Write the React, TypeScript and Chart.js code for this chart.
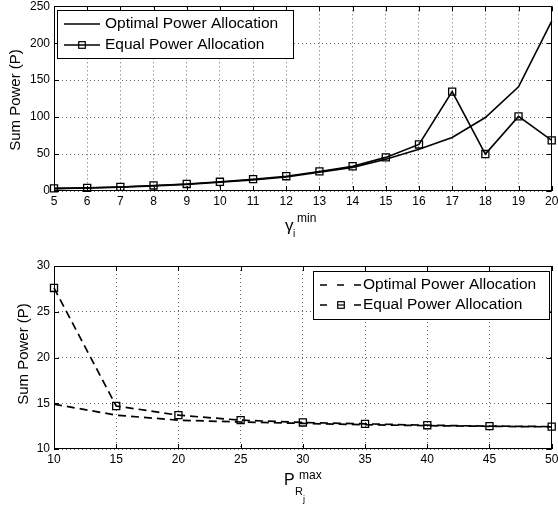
import React, { useEffect, useRef } from "react";
import { Chart, registerables } from "chart.js";

Chart.register(...registerables);

const gammaValues = [5, 6, 7, 8, 9, 10, 11, 12, 13, 14, 15, 16, 17, 18, 19, 20];
const optimalTop = [3.2, 4, 5.2, 7, 9, 11.8, 15, 19, 25.5, 32, 43, 56.5, 72.5, 99.5, 141, 230];
const equalTop = [3.5, 4.2, 5.5, 7.5, 9.5, 12.5, 16, 20, 26.5, 33.5, 45.5, 63, 134.5, 50, 101, 68.5];

const pRValues = [10, 15, 20, 25, 30, 35, 40, 45, 50];
const optimalBottom = [14.9, 13.7, 13.15, 12.95, 12.8, 12.65, 12.55, 12.48, 12.42];
const equalBottom = [27.6, 14.7, 13.7, 13.15, 12.9, 12.75, 12.6, 12.5, 12.45];

const seriesLabels = ["Optimal Power Allocation", "Equal Power Allocation"];
const yTitle = "Sum Power (P)";

const FONT = "'Liberation Sans', Arial, Helvetica, sans-serif";

type LegendCfg = {
  box: [number, number, number, number];
  rows: number[];
  lineX: [number, number];
  markerX: number;
  textX: number;
  dash: number[];
};

type TitleCfg = {
  yTitleX: number;
  yTitleY: number;
  drawX: (ctx: CanvasRenderingContext2D) => void;
  legend: LegendCfg;
};

function makePlugin(cfg: TitleCfg) {
  return {
    id: "matlabFrame",
    afterDraw(chart: any) {
      const ctx: CanvasRenderingContext2D = chart.ctx;
      const a = chart.chartArea;
      ctx.save();
      ctx.strokeStyle = "#000";
      ctx.lineWidth = 1;
      ctx.setLineDash([]);
      ctx.strokeRect(Math.round(a.left) + 0.5, Math.round(a.top) + 0.5, Math.round(a.right - a.left) - 1, Math.round(a.bottom - a.top) - 1);
      const tl = 5;
      const xs = chart.scales.x;
      xs.ticks.forEach((t: any) => {
        const px = Math.round(xs.getPixelForValue(t.value)) + 0.5;
        ctx.beginPath();
        ctx.moveTo(px, a.bottom);
        ctx.lineTo(px, a.bottom - tl);
        ctx.moveTo(px, a.top);
        ctx.lineTo(px, a.top + tl);
        ctx.stroke();
      });
      const ys = chart.scales.y;
      ys.ticks.forEach((t: any) => {
        const py = Math.round(ys.getPixelForValue(t.value)) + 0.5;
        ctx.beginPath();
        ctx.moveTo(a.left, py);
        ctx.lineTo(a.left + tl, py);
        ctx.moveTo(a.right, py);
        ctx.lineTo(a.right - tl, py);
        ctx.stroke();
      });
      ctx.fillStyle = "#000";
      ctx.font = `15px ${FONT}`;
      ctx.textAlign = "center";
      ctx.textBaseline = "middle";
      ctx.save();
      ctx.translate(cfg.yTitleX, cfg.yTitleY);
      ctx.rotate(-Math.PI / 2);
      ctx.fillText(yTitle, 0, 0);
      ctx.restore();
      ctx.textAlign = "left";
      ctx.textBaseline = "alphabetic";
      cfg.drawX(ctx);
      const L = cfg.legend;
      const [bx, by, bw, bh] = L.box;
      ctx.fillStyle = "#fff";
      ctx.fillRect(bx, by, bw, bh);
      ctx.strokeStyle = "#000";
      ctx.lineWidth = 1;
      ctx.strokeRect(bx + 0.5, by + 0.5, bw, bh);
      chart.data.datasets.forEach((ds: any, i: number) => {
        const y = L.rows[i];
        ctx.strokeStyle = "#000";
        ctx.lineWidth = 1.5;
        ctx.setLineDash(L.dash);
        ctx.beginPath();
        ctx.moveTo(L.lineX[0], y);
        ctx.lineTo(L.lineX[1], y);
        ctx.stroke();
        ctx.setLineDash([]);
        if (ds.pointRadius > 0) {
          const s = 3.3;
          if (L.dash.length) {
            ctx.fillStyle = "#fff";
            ctx.fillRect(L.markerX - s - 2, y - s - 1, 2 * s + 4, 2 * s + 2);
          }
          ctx.lineWidth = 1.2;
          ctx.strokeRect(L.markerX - s, y - s, 2 * s, 2 * s);
          if (L.dash.length) {
            ctx.beginPath();
            ctx.moveTo(L.markerX - s, y);
            ctx.lineTo(L.markerX + s, y);
            ctx.stroke();
          }
        }
        ctx.fillStyle = "#000";
        ctx.font = `15.5px ${FONT}`;
        ctx.textBaseline = "middle";
        ctx.textAlign = "left";
        ctx.fillText(ds.label, L.textX, y);
      });
      ctx.restore();
    },
  };
}

function makeOptions(xMin: number, xMax: number, xStep: number, yMin: number, yMax: number, yStep: number, padTop: number, xHeight: number) {
  const tickFont = { family: FONT, size: 12 };
  return {
    responsive: false,
    animation: false,
    devicePixelRatio: 1,
    layout: { padding: { top: padTop, right: 6, left: 0, bottom: 0 } },
    plugins: { legend: { display: false }, tooltip: { enabled: false }, title: { display: false } },
    elements: { line: { tension: 0 } },
    scales: {
      x: {
        type: "linear",
        min: xMin,
        max: xMax,
        ticks: { stepSize: xStep, autoSkip: false, maxRotation: 0, color: "#000", font: tickFont, padding: 3 },
        grid: { color: "rgba(0,0,0,0.6)", drawTicks: false, lineWidth: 1 },
        border: { display: false, dash: [1, 3] },
        afterFit: (s: any) => {
          s.height = xHeight;
          s.paddingLeft = 0;
          s.paddingRight = 0;
        },
      },
      y: {
        type: "linear",
        min: yMin,
        max: yMax,
        ticks: { stepSize: yStep, color: "#000", font: tickFont, padding: 4 },
        grid: { color: "rgba(0,0,0,0.6)", drawTicks: false, lineWidth: 1 },
        border: { display: false, dash: [1, 3] },
        afterFit: (s: any) => {
          s.width = 54;
          s.paddingTop = 0;
          s.paddingBottom = 0;
        },
      },
    },
  };
}

function TopChart() {
  const ref = useRef<HTMLCanvasElement>(null);
  useEffect(() => {
    const plugin = makePlugin({
      yTitleX: 16,
      yTitleY: 100,
      drawX: (ctx) => {
        ctx.font = `17px ${FONT}`;
        ctx.fillText("γ", 285, 231);
        ctx.font = `12px ${FONT}`;
        ctx.fillText("min", 297, 222);
        ctx.font = `10px ${FONT}`;
        ctx.fillText("i", 293, 237);
      },
      legend: { box: [57, 10, 236, 48], rows: [24, 45], lineX: [64, 100], markerX: 82, textX: 105, dash: [] },
    });
    const chart = new Chart(ref.current as HTMLCanvasElement, {
      type: "line",
      data: {
        datasets: [
          {
            label: seriesLabels[0],
            data: gammaValues.map((x, i) => ({ x, y: optimalTop[i] })),
            borderColor: "#000",
            borderWidth: 1.6,
            pointRadius: 0,
            clip: false,
          },
          {
            label: seriesLabels[1],
            data: gammaValues.map((x, i) => ({ x, y: equalTop[i] })),
            borderColor: "#000",
            borderWidth: 1.6,
            pointStyle: "rect",
            pointRadius: 5,
            pointBorderWidth: 1.3,
            pointBorderColor: "#000",
            pointBackgroundColor: "rgba(0,0,0,0)",
            clip: false,
          },
        ],
      },
      options: makeOptions(5, 20, 1, 0, 250, 50, 5, 59) as any,
      plugins: [plugin],
    });
    return () => chart.destroy();
  }, []);
  return <canvas ref={ref} width={558} height={250} style={{ position: "absolute", left: 0, top: 0 }} />;
}

function BottomChart() {
  const ref = useRef<HTMLCanvasElement>(null);
  useEffect(() => {
    const plugin = makePlugin({
      yTitleX: 24,
      yTitleY: 104,
      drawX: (ctx) => {
        ctx.font = `16px ${FONT}`;
        ctx.fillText("P", 284, 235);
        ctx.font = `12px ${FONT}`;
        ctx.fillText("max", 299, 229);
        ctx.font = `11px ${FONT}`;
        ctx.fillText("R", 295, 245);
        ctx.font = `9px ${FONT}`;
        ctx.fillText("j", 303, 252);
      },
      legend: { box: [313, 21, 236, 48], rows: [35, 55], lineX: [320, 362], markerX: 341, textX: 363, dash: [7, 10] },
    });
    const chart = new Chart(ref.current as HTMLCanvasElement, {
      type: "line",
      data: {
        datasets: [
          {
            label: seriesLabels[0],
            data: pRValues.map((x, i) => ({ x, y: optimalBottom[i] })),
            borderColor: "#000",
            borderWidth: 1.7,
            borderDash: [8, 5],
            pointRadius: 0,
            clip: false,
          },
          {
            label: seriesLabels[1],
            data: pRValues.map((x, i) => ({ x, y: equalBottom[i] })),
            borderColor: "#000",
            borderWidth: 1.7,
            borderDash: [8, 5],
            pointStyle: "rect",
            pointRadius: 5,
            pointBorderWidth: 1.3,
            pointBorderColor: "#000",
            pointBackgroundColor: "rgba(0,0,0,0)",
            clip: false,
          },
        ],
      },
      options: makeOptions(10, 50, 5, 10, 30, 5, 16, 58) as any,
      plugins: [plugin],
    });
    return () => chart.destroy();
  }, []);
  return <canvas ref={ref} width={558} height={257} style={{ position: "absolute", left: 0, top: 250 }} />;
}

export default function App() {
  return (
    <div style={{ position: "absolute", left: 0, top: 0, width: 558, height: 507, background: "#fff" }}>
      <TopChart />
      <BottomChart />
    </div>
  );
}
